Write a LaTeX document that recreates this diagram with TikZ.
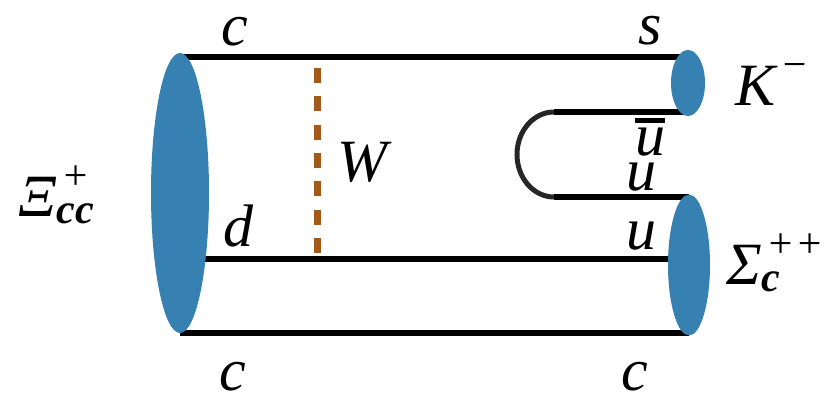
\documentclass[tikz,border=0pt]{standalone}
\usepackage{fontspec}
\setmainfont{Liberation Serif}[ItalicFont={Liberation Serif Italic}, BoldItalicFont={Liberation Serif Bold Italic}]
\usetikzlibrary{shapes.geometric}
\definecolor{hadronblue}{RGB}{54,128,178}
\definecolor{wbrown}{RGB}{163,90,25}
% script size for the hadron labels
\newcommand{\scripttext}{\fontsize{42}{48}\selectfont}
\newcommand{\upscript}[1]{\raisebox{27pt}{\scripttext\kern5pt #1}}
\newcommand{\downscript}[1]{\raisebox{-7pt}{\scripttext\bfseries #1}}

\begin{document}
\begin{tikzpicture}[x=1pt,y=-1pt]
    \tikzset{quark/.style={line width=5.5pt},
        hadron/.style={ellipse, fill=hadronblue, inner sep=0pt},
        lbl/.style={inner sep=0pt, font=\fontsize{60}{72}\selectfont\itshape}}
    \useasboundingbox (0,0) rectangle (832,406);

    % quark line ends
    \coordinate (cl1) at (180,57);   \coordinate (sr) at (688,57);
    \coordinate (ubl) at (554,112);  \coordinate (ubr) at (688,112);
    \coordinate (ul) at (554,197);   \coordinate (ur) at (689,197);
    \coordinate (dl) at (180,259);   \coordinate (ud) at (689,259);
    \coordinate (cl2) at (180,333);  \coordinate (cr2) at (689,333);
    \coordinate (wbot) at (317,253); \coordinate (wtop) at (317,57);

    \draw[wbrown, line width=7pt, dash pattern=on 15pt off 13.3pt] (wbot) -- (wtop);

    \draw[quark] (cl1) -- (sr);
    \draw[quark] (ubl) -- (ubr);
    \draw[quark] (ul) -- (ur);
    \draw[quark] (dl) -- (ud);
    \draw[quark] (cl2) -- (cr2);
    \draw[black!85, line width=5pt] (ubl) arc[start angle=270, end angle=90, x radius=37, y radius=42.5];

    \node[hadron, minimum width=58pt, minimum height=280pt] (xi) at (180,193) {};
    \node[hadron, minimum width=34pt, minimum height=66pt] (kaon) at (688,83) {};
    \node[hadron, minimum width=42pt, minimum height=141pt] (sigma) at (689,265) {};

    \node[lbl] (xilbl) at (56,195) {Ξ\rlap{\upscript{+}}\downscript{cc}};
    \node[lbl] (klbl) at (772,85) {K\upscript{−}};
    \node[lbl] (sigmalbl) at (775,263) {Σ\rlap{\downscript{c}}\upscript{++}};
    \node[lbl] (wlbl) at (362,162) {W};
    \node[lbl] (c1) at (235,32) {c};
    \node[lbl] (s1) at (650,31) {s};
    \node[lbl] (d1) at (238,226) {d};
    \node[lbl] (ubar1) at (650,137) {\vbox{\hrule height 5pt\kern 5pt\hbox{u}}};
    \node[lbl] (u1) at (641,177) {u};
    \node[lbl] (u2) at (641,236) {u};
    \node[lbl] (c2) at (233,377) {c};
    \node[lbl] (c3) at (635,377) {c};
\end{tikzpicture}
\end{document}
